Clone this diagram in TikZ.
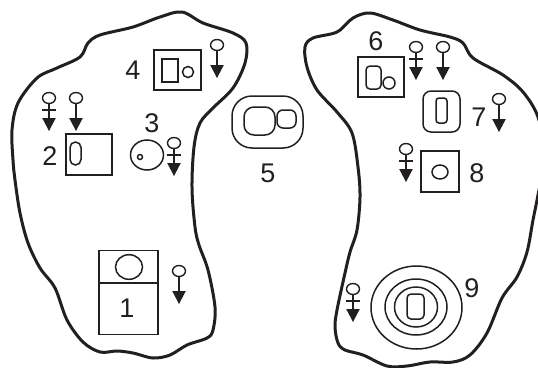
\documentclass[tikz,border=0pt]{standalone}
\usepackage{fontspec}
\setmainfont{Liberation Sans}
\definecolor{ink}{HTML}{231F20}
\tikzset{
  x=1pt,y=-1pt,
  outline/.style={draw=ink,line width=3pt,line join=round,line cap=round},
  part/.style={draw=ink,line width=1.5pt},
  lab/.style={font=\fontsize{27}{27}\selectfont,text=ink,inner sep=0pt},
  symb/.pic={
    \draw[ink,line width=1.3pt] (0,5.5) -- (0,22);
    \draw[ink,line width=1.4pt] (0,0) circle[x radius=6.5,y radius=5.5];
    \fill[ink] (-6.8,20) -- (6.8,20) -- (0,33) -- cycle;
  },
  symbb/.pic={
    \draw[ink,line width=1.3pt] (0,5.5) -- (0,22);
    \draw[ink,line width=1.4pt] (0,0) circle[x radius=6.5,y radius=5.5];
    \draw[ink,line width=1.3pt] (-7,12) -- (7,12);
    \fill[ink] (-6.8,20) -- (6.8,20) -- (0,33) -- cycle;
  }
}
\begin{document}
\begin{tikzpicture}
\useasboundingbox (0,0) rectangle (538,367);
\draw[outline] plot[smooth cycle,tension=0.55] coordinates {(182,12)(203,23)(233,33)(246,43)(245,63)(233,88)(213,108)(200,123)(194,147)(192,188)(195,227)(199,245)(208,270)(215,307)(213,330)(207,338)(187,345)(170,355)(153,358)(133,353)(117,351)(100,352)(83,342)(67,320)(55,288)(40,268)(28,243)(20,213)(15,180)(13,160)(12,130)(18,103)(37,78)(57,68)(80,57)(88,43)(100,35)(133,27)(160,17)};
\draw[outline] plot[smooth cycle,tension=0.55] coordinates {(370,13)(393,20)(420,30)(450,37)(463,43)(473,58)(503,75)(523,92)(538,117)(545,155)(538,195)(533,220)(527,252)(517,277)(502,298)(487,333)(470,355)(453,362)(430,362)(407,366)(387,366)(363,355)(345,350)(338,343)(335,327)(337,310)(345,273)(350,252)(357,230)(360,197)(358,167)(352,133)(337,112)(317,90)(307,67)(305,47)(313,38)(337,32)(353,18)};
% 4
\node[part,draw,minimum width=47,minimum height=40,inner sep=0] (b4) at (177.5,70) {};
\draw[part] (162,59) rectangle (178,82);
\draw[part] (188,72) circle[radius=5.5];
\node[lab] (t4) at (133,70) {4};
\pic at (217,45) {symb};
% 2
\pic at (49,98) {symbb};
\pic at (76,98) {symb};
\node[part,draw,minimum width=46,minimum height=41,inner sep=0] (b2) at (89,154.5) {};
\node[lab] at (50,156) {2};
\draw[part,rounded corners=5.5pt] (70,142) rectangle (81,165);
% 3
\node[lab] at (152,123) {3};
\draw[part] (147,155) circle[x radius=16.5,y radius=15];
\draw[part] (140,157) circle[radius=2.5];
\pic at (174,143) {symbb};
% 1
\node[part,draw,minimum width=59,minimum height=84,inner sep=0] (b1) at (128.5,292.5) {};
\draw[part] (99,283) -- (158,283);
\draw[part] (129,267) circle[x radius=13.5,y radius=12.3];
\node[lab] at (127,308) {1};
\pic at (179,271) {symb};
% 5
\node[draw=ink,line width=1.5pt,rounded corners=20pt,minimum width=71,minimum height=52,inner sep=0] (b5) at (267.5,122) {};
\draw[part,rounded corners=10pt] (244,107) rectangle (275,135);
\draw[part,rounded corners=6pt] (277,110) rectangle (296,128);
\node[lab] at (268,173) {5};
% 6
\node[lab] at (376,41) {6};
\node[part,draw,minimum width=46,minimum height=40,inner sep=0] (b6) at (381,77) {};
\draw[part,rounded corners=4pt] (366,66) rectangle (381,89);
\draw[part] (389,83) circle[radius=6];
\pic at (416,47) {symbb};
\pic at (443,47) {symb};
% 7
\node[draw=ink,line width=1.5pt,rounded corners=8pt,minimum width=37,minimum height=41,inner sep=0] (b7) at (441.5,111.5) {};
\draw[part,rounded corners=3pt] (436,98) rectangle (447,123);
\node[lab] at (479,117) {7};
\pic at (499,99) {symb};
% 8
\pic at (406,149) {symbb};
\node[part,draw,minimum width=38,minimum height=41,inner sep=0] (b8) at (440,171.5) {};
\draw[part] (440,172) circle[x radius=8,y radius=7];
\node[lab] at (477,173) {8};
% 9
\draw[part] (416.5,307.5) circle[x radius=45.5,y radius=41.5];
\draw[part] (416,307) circle[x radius=31,y radius=28];
\draw[part] (416,307) circle[x radius=21.5,y radius=20];
\draw[part,rounded corners=4pt] (407,294) rectangle (424,319);
\node[lab] at (472,288) {9};
\pic at (353,289) {symbb};
\end{tikzpicture}
\end{document}
